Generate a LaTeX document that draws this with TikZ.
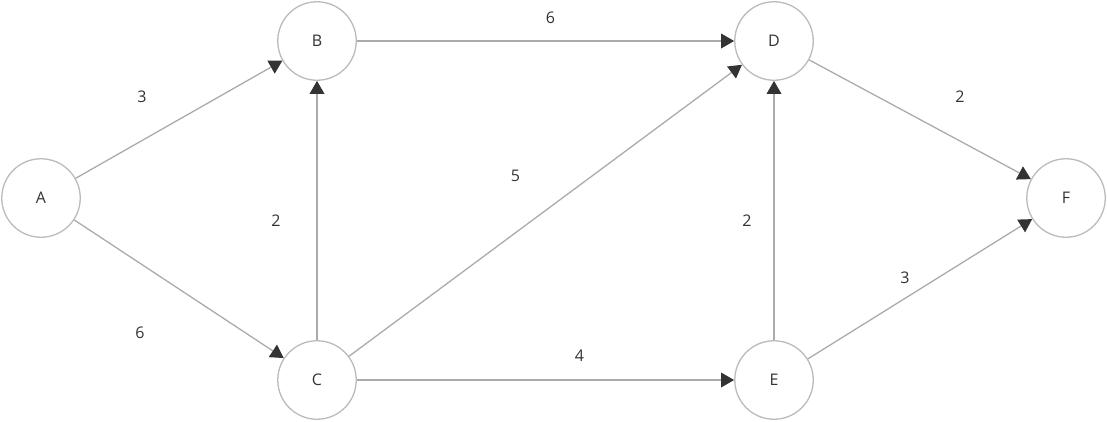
\documentclass[tikz,border=0pt]{standalone}
\usepackage{fontspec}
\setmainfont{Open Sans}
\usetikzlibrary{arrows.meta,positioning}
\definecolor{ringgray}{HTML}{BBBBBB}
\definecolor{edgegray}{HTML}{ABABAB}
\definecolor{tipgray}{HTML}{333333}
\definecolor{textgray}{HTML}{333333}

\begin{document}
\begin{tikzpicture}[
  x=1pt, y=-1pt,
  every node/.style={font=\fontsize{16}{19}\selectfont, text=textgray},
  vertex/.style={draw=ringgray, line width=1.3pt, circle, minimum size=78.5pt, inner sep=0pt, fill=white},
  weight/.style={midway, inner sep=0pt},
  arr/.style={draw=edgegray, line width=1.3pt, -{Triangle[length=13pt, width=15pt, color=tipgray, fill=tipgray, line width=0pt]}}
]
\useasboundingbox (0,0) rectangle (1107,421);

%% Vertices
\node[vertex] (A) at (41,198) {A};
\node[vertex] (B) at (317,41) {B};
\node[vertex] (C) at (317,380) {C};
\node[vertex] (D) at (774,41) {D};
\node[vertex] (E) at (774,380) {E};
\node[vertex] (F) at (1066,198) {F};

%% Weighted edges
\draw[arr] (A) -- node[weight, xshift=-37pt, yshift=23pt] (wAB) {3} (B);
\draw[arr] (A) -- node[weight, xshift=-39pt, yshift=-44pt] (wAC) {6} (C);
\draw[arr] (B) -- node[weight, xshift=5pt, yshift=23pt] (wBD) {6} (D);
\draw[arr] (C) -- node[weight, xshift=-41pt, yshift=-10pt] (wCB) {2} (B);
\draw[arr] (C) -- node[weight, xshift=-30pt, yshift=35pt] (wCD) {5} (D);
\draw[arr] (C) -- node[weight, xshift=34pt, yshift=24pt] (wCE) {4} (E);
\draw[arr] (E) -- node[weight, xshift=-27pt, yshift=-10pt] (wED) {2} (D);
\draw[arr] (D) -- node[weight, xshift=40pt, yshift=23pt] (wDF) {2} (F);
\draw[arr] (E) -- node[weight, xshift=-15pt, yshift=11pt] (wEF) {3} (F);

\end{tikzpicture}
\end{document}
